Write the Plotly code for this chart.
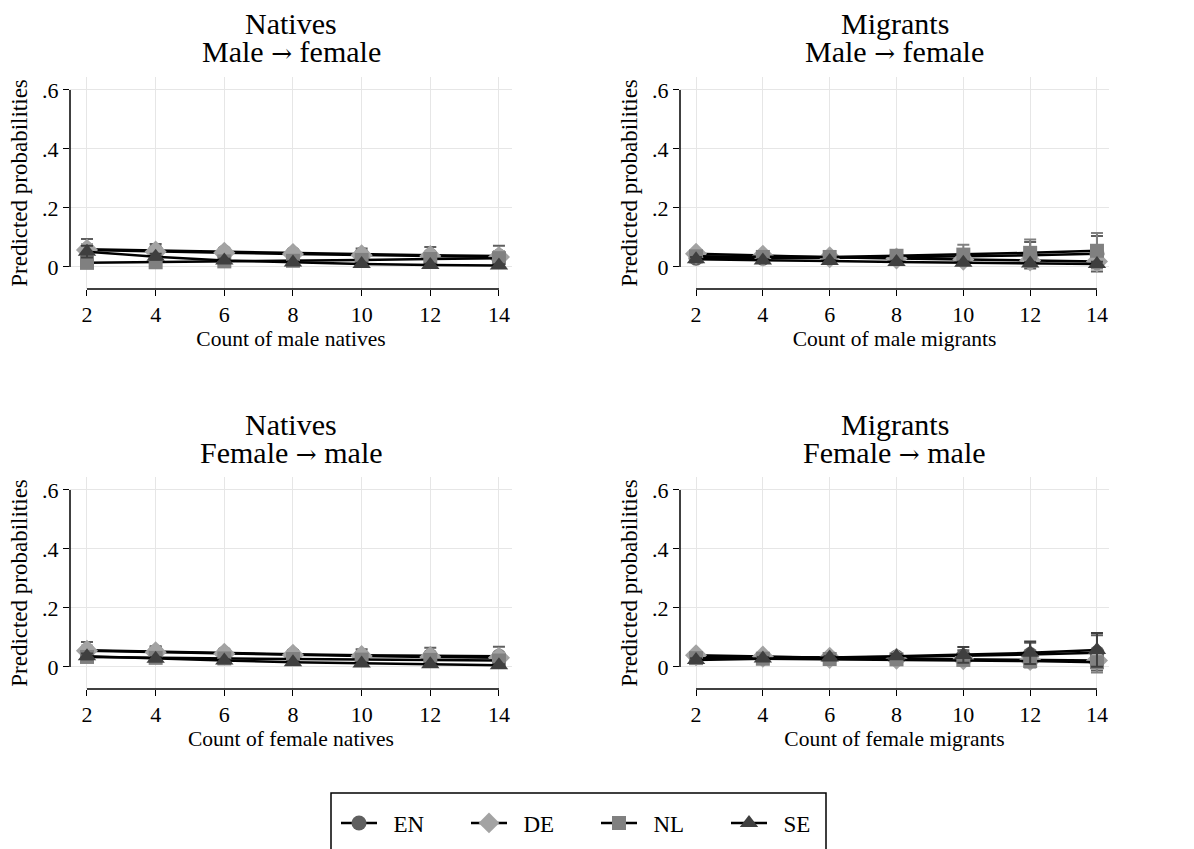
import plotly.graph_objects as go

# ---------------- data ----------------
counts = [2, 4, 6, 8, 10, 12, 14]
series_names = ["EN", "DE", "NL", "SE"]

# Natives, male -> female
nat_mf_EN = [0.060, 0.056, 0.051, 0.046, 0.043, 0.040, 0.037]
nat_mf_EN_ci = [0.035, 0.022, 0.012, 0.012, 0.020, 0.028, 0.035]
nat_mf_DE = [0.058, 0.052, 0.048, 0.044, 0.040, 0.037, 0.034]
nat_mf_DE_ci = [0.020, 0.015, 0.010, 0.010, 0.012, 0.015, 0.020]
nat_mf_NL = [0.014, 0.016, 0.019, 0.021, 0.024, 0.027, 0.030]
nat_mf_NL_ci = [0.008, 0.006, 0.005, 0.006, 0.008, 0.010, 0.012]
nat_mf_SE = [0.052, 0.035, 0.022, 0.015, 0.010, 0.007, 0.005]
nat_mf_SE_ci = [0.020, 0.010, 0.006, 0.004, 0.004, 0.004, 0.004]

# Migrants, male -> female
mig_mf_EN = [0.030, 0.030, 0.031, 0.033, 0.036, 0.040, 0.045]
mig_mf_EN_ci = [0.012, 0.008, 0.008, 0.010, 0.025, 0.045, 0.060]
mig_mf_DE = [0.045, 0.038, 0.033, 0.029, 0.025, 0.022, 0.019]
mig_mf_DE_ci = [0.012, 0.008, 0.006, 0.006, 0.008, 0.010, 0.012]
mig_mf_NL = [0.036, 0.034, 0.034, 0.038, 0.042, 0.048, 0.055]
mig_mf_NL_ci = [0.010, 0.008, 0.007, 0.010, 0.033, 0.045, 0.060]
mig_mf_SE = [0.026, 0.022, 0.020, 0.017, 0.014, 0.012, 0.010]
mig_mf_SE_ci = [0.008, 0.005, 0.004, 0.004, 0.005, 0.006, 0.008]

# Natives, female -> male
nat_fm_EN = [0.057, 0.052, 0.047, 0.043, 0.040, 0.038, 0.036]
nat_fm_EN_ci = [0.028, 0.018, 0.012, 0.014, 0.020, 0.027, 0.033]
nat_fm_DE = [0.055, 0.050, 0.045, 0.041, 0.037, 0.034, 0.031]
nat_fm_DE_ci = [0.018, 0.012, 0.009, 0.009, 0.011, 0.014, 0.017]
nat_fm_NL = [0.034, 0.031, 0.029, 0.027, 0.025, 0.024, 0.022]
nat_fm_NL_ci = [0.010, 0.007, 0.006, 0.006, 0.008, 0.010, 0.012]
nat_fm_SE = [0.036, 0.028, 0.022, 0.016, 0.012, 0.009, 0.006]
nat_fm_SE_ci = [0.010, 0.006, 0.004, 0.003, 0.003, 0.003, 0.003]

# Migrants, female -> male
mig_fm_EN = [0.035, 0.033, 0.032, 0.034, 0.037, 0.042, 0.048]
mig_fm_EN_ci = [0.010, 0.007, 0.006, 0.008, 0.020, 0.040, 0.060]
mig_fm_DE = [0.040, 0.035, 0.031, 0.028, 0.026, 0.024, 0.022]
mig_fm_DE_ci = [0.012, 0.008, 0.006, 0.006, 0.008, 0.010, 0.012]
mig_fm_NL = [0.030, 0.028, 0.027, 0.026, 0.024, 0.020, 0.016]
mig_fm_NL_ci = [0.010, 0.006, 0.006, 0.008, 0.012, 0.022, 0.035]
mig_fm_SE = [0.024, 0.029, 0.032, 0.036, 0.041, 0.048, 0.058]
mig_fm_SE_ci = [0.006, 0.005, 0.005, 0.008, 0.027, 0.038, 0.057]

ARROW = "<span style=\"font-family:'DejaVu Serif';font-size:25px\">\u2192</span>"
title_line1 = ["Natives", "Migrants", "Natives", "Migrants"]
title_line2 = [f"Male {ARROW} female", f"Male {ARROW} female",
               f"Female {ARROW} male", f"Female {ARROW} male"]
x_titles = ["Count of male natives", "Count of male migrants",
            "Count of female natives", "Count of female migrants"]
y_title = "Predicted probabilities"
y_tickvals = [0, 0.2, 0.4, 0.6]
y_ticktext = ["0", ".2", ".4", ".6"]

panels = [
    [(nat_mf_EN, nat_mf_EN_ci), (nat_mf_DE, nat_mf_DE_ci), (nat_mf_NL, nat_mf_NL_ci), (nat_mf_SE, nat_mf_SE_ci)],
    [(mig_mf_EN, mig_mf_EN_ci), (mig_mf_DE, mig_mf_DE_ci), (mig_mf_NL, mig_mf_NL_ci), (mig_mf_SE, mig_mf_SE_ci)],
    [(nat_fm_EN, nat_fm_EN_ci), (nat_fm_DE, nat_fm_DE_ci), (nat_fm_NL, nat_fm_NL_ci), (nat_fm_SE, nat_fm_SE_ci)],
    [(mig_fm_EN, mig_fm_EN_ci), (mig_fm_DE, mig_fm_DE_ci), (mig_fm_NL, mig_fm_NL_ci), (mig_fm_SE, mig_fm_SE_ci)],
]

# ---------------- style ----------------
W, H = 1194, 849
FONT = "Liberation Serif, Times New Roman, serif"
marker_colors = ["#5f5f5f", "#a3a3a3", "#808080", "#3f3f3f"]
marker_symbols = ["circle", "diamond", "square", "triangle-up"]
marker_sizes = [15, 17, 14, 16]

# panel pixel boxes: (left, right, top, bottom)
boxes = [(70, 512, 77, 289), (680, 1109, 77, 289),
         (70, 512, 477, 689), (680, 1109, 477, 689)]
x_ranges = [[1.505, 14.38], [1.52, 14.36], [1.505, 14.38], [1.52, 14.36]]
y_range = [-0.0746, 0.644]

fig = go.Figure()
layout = dict(
    width=W, height=H, margin=dict(l=0, r=0, t=0, b=0),
    paper_bgcolor="white", plot_bgcolor="white",
    font=dict(family=FONT, color="black", size=20),
    showlegend=True,
)
annotations = []
shapes = []

for p in range(4):
    l, r, t, b = boxes[p]
    xa = "xaxis" if p == 0 else f"xaxis{p+1}"
    ya = "yaxis" if p == 0 else f"yaxis{p+1}"
    xr = "x" if p == 0 else f"x{p+1}"
    yr = "y" if p == 0 else f"y{p+1}"
    layout[xa] = dict(
        domain=[l / W, r / W], anchor=yr, range=x_ranges[p],
        tickvals=counts, ticks="outside", ticklen=6, tickwidth=1.3, tickcolor="black",
        showline=False, zeroline=False, showgrid=True, gridcolor="#e6e6e6", gridwidth=1.3,
        tickfont=dict(size=22, family=FONT),
        title=dict(text=x_titles[p], font=dict(size=21.5, family=FONT), standoff=0),
    )
    layout[ya] = dict(
        domain=[1 - b / H, 1 - t / H], anchor=xr, range=y_range,
        tickvals=y_tickvals, ticktext=y_ticktext, ticks="outside", ticklen=6,
        tickwidth=1.3, tickcolor="black",
        showline=False, zeroline=False, showgrid=True, gridcolor="#e6e6e6", gridwidth=1.3,
        tickfont=dict(size=22, family=FONT),
        title=dict(text=y_title, font=dict(size=23, family=FONT), standoff=8),
    )
    # Stata-style axis lines spanning only the tick range
    shapes.append(dict(type="line", xref=xr, yref=f"{yr} domain",
                       x0=counts[0], x1=counts[-1], y0=0, y1=0,
                       line=dict(color="black", width=1.5)))
    shapes.append(dict(type="line", xref=f"{xr} domain", yref=yr,
                       x0=0, x1=0, y0=y_tickvals[0], y1=y_tickvals[-1],
                       line=dict(color="black", width=1.5)))
    # panel title (two lines)
    cx = (l + r) / 2 / W
    annotations.append(dict(text=title_line1[p], xref="paper", yref="paper",
                            x=cx, y=1 - (t - 53) / H,
                            xanchor="center", yanchor="middle", showarrow=False,
                            font=dict(size=30, family=FONT, color="black")))
    annotations.append(dict(text=title_line2[p], xref="paper", yref="paper",
                            x=cx, y=1 - (t - 25) / H,
                            xanchor="center", yanchor="middle", showarrow=False,
                            font=dict(size=30, family=FONT, color="black")))

    for s in range(4):
        vals, ci = panels[p][s]
        fig.add_trace(go.Scatter(
            x=counts, y=vals, xaxis=xr, yaxis=yr, mode="lines+markers",
            name="\u00a0\u00a0" + series_names[s], showlegend=(p == 0),
            legendgroup=series_names[s],
            line=dict(color="black", width=2.5),
            marker=dict(symbol=marker_symbols[s], color=marker_colors[s],
                        size=marker_sizes[s], line=dict(width=0)),
            error_y=dict(type="data", array=ci, visible=True,
                         color=marker_colors[s], thickness=2, width=6),
        ))

# legend frame (Stata style, running off the bottom of the canvas)
shapes.append(dict(type="rect", xref="paper", yref="paper",
                   x0=331 / W, x1=826 / W, y0=-0.05, y1=1 - 793 / H,
                   line=dict(color="black", width=1.5), fillcolor="rgba(0,0,0,0)"))

layout["annotations"] = annotations
layout["shapes"] = shapes
layout["legend"] = dict(
    orientation="h", x=596 / W, xanchor="center", y=1 - 823 / H, yanchor="middle",
    borderwidth=0, bgcolor="rgba(0,0,0,0)",
    font=dict(size=23, family=FONT), entrywidth=79, itemwidth=36,
)
fig.update_layout(**layout)
fig.write_html("out.html")
